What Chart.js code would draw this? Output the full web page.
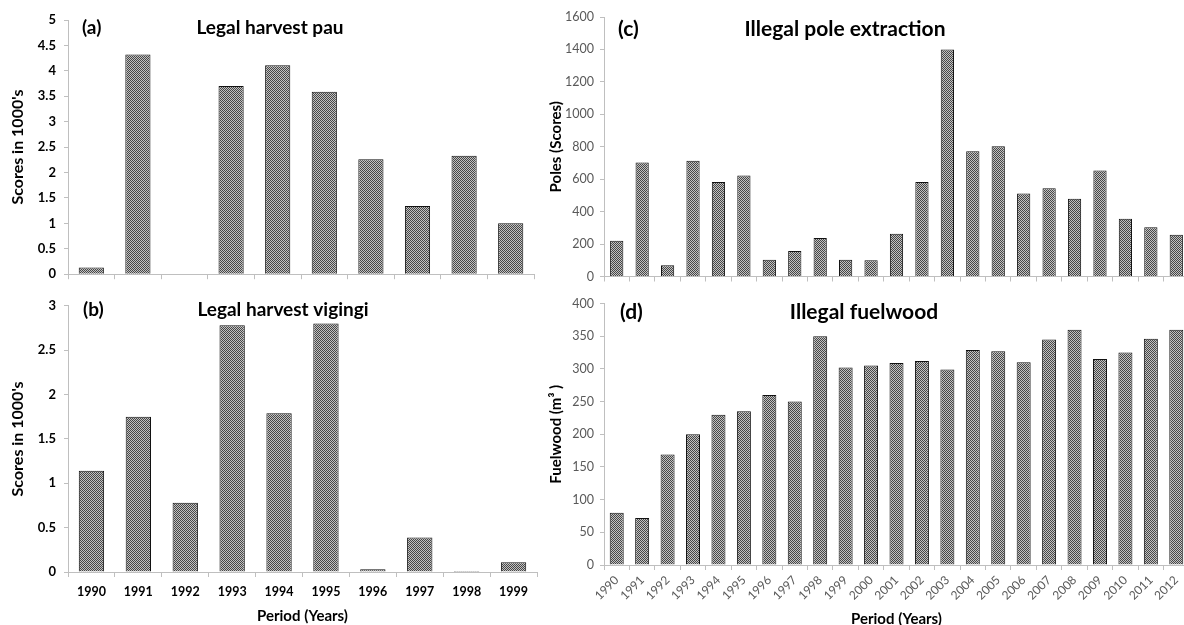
<!DOCTYPE html>
<html>
<head>
<meta charset="utf-8">
<script src="https://cdn.jsdelivr.net/npm/chart.js@4.4.1/dist/chart.umd.min.js"></script>
<style>
  html, body { margin: 0; padding: 0; background: #fff; overflow: hidden; width: 1184px; height: 625px; }
  canvas { position: absolute; }
</style>
</head>
<body>
<canvas id="panelA" width="545" height="290" style="left:0;top:0"></canvas>
<canvas id="panelB" width="545" height="335" style="left:0;top:290px"></canvas>
<canvas id="panelC" width="660" height="290" style="left:540px;top:0"></canvas>
<canvas id="panelD" width="660" height="338" style="left:540px;top:290px"></canvas>
<script>
// Legal harvest, 1990-1999 (scores in thousands)
const legalYears = ['1990', '1991', '1992', '1993', '1994', '1995', '1996', '1997', '1998', '1999'];
const pauScores = [0.13, 4.32, 0, 3.70, 4.11, 3.59, 2.26, 1.34, 2.33, 1.00];
const vigingiScores = [1.14, 1.75, 0.78, 2.78, 1.79, 2.80, 0.03, 0.39, 0.01, 0.11];

// Illegal extraction, 1990-2012
const illegalYears = ['1990', '1991', '1992', '1993', '1994', '1995', '1996', '1997', '1998', '1999',
  '2000', '2001', '2002', '2003', '2004', '2005', '2006', '2007', '2008', '2009', '2010', '2011', '2012'];
const poleScores = [221, 703, 69, 713, 582, 623, 104, 157, 237, 104, 100, 264, 582, 1400, 772, 803,
  511, 544, 480, 654, 356, 304, 257];
const fuelwoodVolume = [80, 72, 169, 200, 230, 235, 260, 250, 350, 302, 305, 309, 312, 299, 329, 327,
  310, 345, 360, 315, 325, 346, 360];

const FONT = 'Lato, "Open Sans", sans-serif';
const AXIS_GREY = '#bfbfbf';

// fine checkered fill used for all bars
function checkerFill() {
  const c = document.createElement('canvas');
  c.width = 2; c.height = 2;
  const g = c.getContext('2d');
  g.fillStyle = '#c2c2c2';
  g.fillRect(0, 0, 2, 2);
  g.fillStyle = '#474747';
  g.fillRect(0, 0, 1, 1);
  g.fillRect(1, 1, 1, 1);
  return g.createPattern(c, 'repeat');
}
const barFill = checkerFill();

// plain tick numbers: 4.5, 5, 1600
const plainNumber = v => String(Math.round(v * 100) / 100);

// panel letter and heading drawn inside each plot
const panelText = {
  id: 'panelText',
  afterDraw(chart, args, opts) {
    const ctx = chart.ctx;
    (opts.items || []).forEach(it => {
      ctx.save();
      ctx.font = it.font;
      ctx.fillStyle = '#000';
      ctx.textAlign = it.align;
      ctx.textBaseline = 'middle';
      ctx.fillText(it.text, it.x, it.y);
      ctx.restore();
    });
  }
};

function panel(id, labels, values, cfg) {
  return new Chart(document.getElementById(id), {
    type: 'bar',
    data: {
      labels: labels,
      datasets: [{
        data: values,
        backgroundColor: barFill,
        borderColor: '#111',
        borderWidth: 1,
        barPercentage: cfg.bar,
        categoryPercentage: 1
      }]
    },
    options: {
      responsive: false,
      animation: false,
      events: [],
      layout: { padding: { top: cfg.top, right: cfg.right, left: 0, bottom: 0 } },
      plugins: {
        legend: { display: false },
        tooltip: { enabled: false },
        panelText: { items: cfg.texts }
      },
      scales: {
        x: {
          offset: true,
          grid: { display: true, drawOnChartArea: false, drawTicks: true, tickLength: 5, color: AXIS_GREY, offset: true },
          border: { display: true, color: AXIS_GREY, width: 1 },
          ticks: {
            display: cfg.xLabels,
            autoSkip: false,
            minRotation: cfg.rot,
            maxRotation: cfg.rot,
            padding: cfg.xpad,
            color: cfg.xColor,
            font: cfg.xFont
          },
          title: {
            display: !!cfg.xTitle,
            text: cfg.xTitle || '',
            color: '#000',
            font: { family: FONT, size: 15, weight: 'bold' },
            padding: { top: 0, bottom: 0 }
          },
          afterFit(s) { s.height = cfg.xh; }
        },
        y: {
          min: 0,
          max: cfg.max,
          grid: { display: true, drawOnChartArea: false, drawTicks: true, tickLength: 4, color: AXIS_GREY },
          border: { display: true, color: AXIS_GREY, width: 1 },
          ticks: {
            stepSize: cfg.step,
            padding: cfg.ypad,
            color: cfg.yColor,
            font: cfg.yFont,
            callback: plainNumber
          },
          title: {
            display: true,
            text: cfg.yTitle,
            color: '#000',
            font: cfg.yTitleFont,
            padding: { top: cfg.ytp, bottom: 0 }
          },
          afterFit(s) { s.width = cfg.yw; }
        }
      }
    },
    plugins: [panelText]
  });
}

const boldTick = { family: FONT, size: 13, weight: 'bold' };
const plainTick = { family: FONT, size: 12.5, weight: 'normal' };

panel('panelA', legalYears, pauScores, {
  bar: 0.54, top: 20, right: 11, xh: 11, yw: 68,
  xLabels: false, rot: 0, xpad: 7, xColor: '#000', xFont: boldTick,
  max: 5, step: 0.5, ypad: 8, yColor: '#000', yFont: boldTick,
  yTitle: "Scores in 1000's", yTitleFont: { family: FONT, size: 16, weight: 'bold' }, ytp: 8,
  texts: [
    { text: '(a)', x: 82, y: 28, align: 'left', font: 'bold 19px ' + FONT },
    { text: 'Legal harvest pau', x: 270, y: 28, align: 'center', font: 'bold 19px ' + FONT }
  ]
});

panel('panelB', legalYears, vigingiScores, {
  bar: 0.54, top: 15, right: 8, xh: 53, yw: 68,
  xLabels: true, rot: 0, xpad: 7, xColor: '#000', xFont: { family: FONT, size: 12.5, weight: 'bold' },
  xTitle: 'Period (Years)',
  max: 3, step: 0.5, ypad: 8, yColor: '#000', yFont: boldTick,
  yTitle: "Scores in 1000's", yTitleFont: { family: FONT, size: 16, weight: 'bold' }, ytp: 8,
  texts: [
    { text: '(b)', x: 83, y: 20, align: 'left', font: 'bold 19px ' + FONT },
    { text: 'Legal harvest vigingi', x: 283, y: 20, align: 'center', font: 'bold 19px ' + FONT }
  ]
});

panel('panelC', illegalYears, poleScores, {
  bar: 0.52, top: 17, right: 11, xh: 12, yw: 64,
  xLabels: false, rot: 0, xpad: 3, xColor: '#595959', xFont: plainTick,
  max: 1600, step: 200, ypad: 6, yColor: '#595959', yFont: plainTick,
  yTitle: 'Poles (Scores)', yTitleFont: { family: FONT, size: 15, weight: 'bold' }, ytp: 7,
  texts: [
    { text: '(c)', x: 78, y: 29, align: 'left', font: 'bold 21px ' + FONT },
    { text: 'Illegal pole extraction', x: 305, y: 29, align: 'center', font: 'bold 21px ' + FONT }
  ]
});

panel('panelD', illegalYears, fuelwoodVolume, {
  bar: 0.55, top: 4, right: 11, xh: 63, yw: 64,
  xLabels: true, rot: 45, xpad: 3, xColor: '#595959', xFont: { family: FONT, size: 12, weight: 'normal' },
  xTitle: 'Period (Years)',
  max: 400, step: 50, ypad: 6, yColor: '#595959', yFont: plainTick,
  yTitle: 'Fuelwood (m\u00b3 )', yTitleFont: { family: FONT, size: 15, weight: 'bold' }, ytp: 7,
  texts: [
    { text: '(d)', x: 80, y: 22, align: 'left', font: 'bold 21px ' + FONT },
    { text: 'Illegal fuelwood', x: 324, y: 22, align: 'center', font: 'bold 21px ' + FONT }
  ]
});
</script>
</body>
</html>
